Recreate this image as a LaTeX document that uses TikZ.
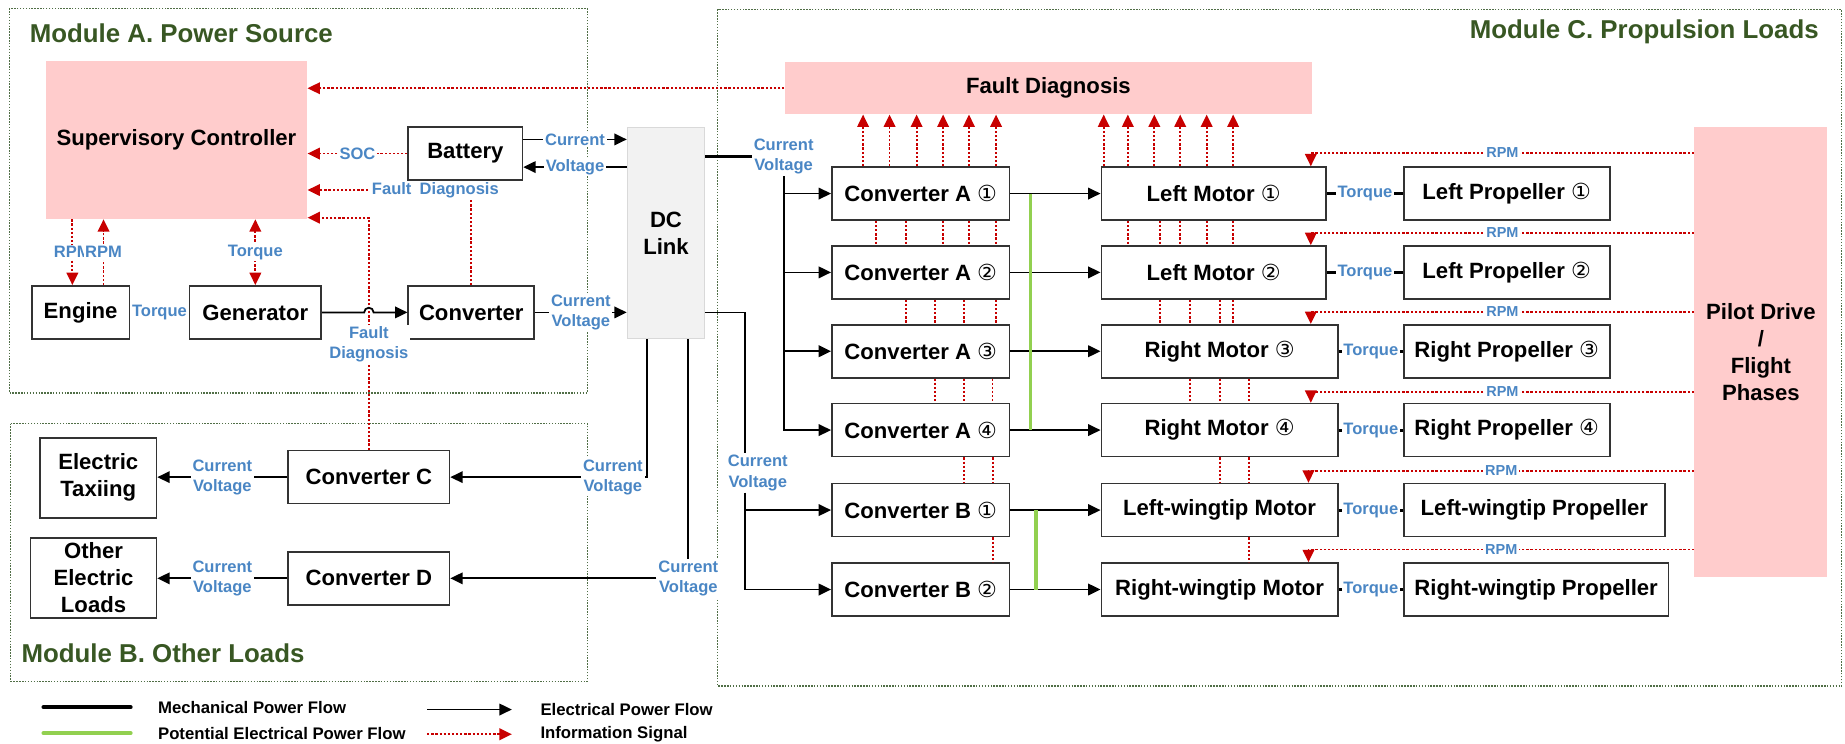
\documentclass[tikz,border=0pt]{standalone}
\usepackage{fontspec}
\setmainfont{Liberation Sans}
\newfontfamily\circfont{DejaVu Sans}
\usetikzlibrary{arrows.meta}

\definecolor{pinkfill}{RGB}{255,204,204}
\definecolor{lblblue}{RGB}{74,134,196}
\definecolor{infored}{RGB}{200,0,0}
\definecolor{potgreen}{RGB}{146,208,80}
\definecolor{modgreen}{RGB}{56,87,35}
\definecolor{framegreen}{RGB}{80,110,70}
\definecolor{dcgray}{RGB}{242,242,242}

\newlength\px
\setlength\px{0.02cm}
\newcommand{\cnum}[1]{{\circfont\mdseries #1}}
\newcommand{\boxfont}{\fontsize{10.7}{13}\selectfont\bfseries}
\newcommand{\lblfont}{\fontsize{8}{9.8}\selectfont\bfseries}
\newcommand{\rpmfont}{\fontsize{7}{8}\selectfont\bfseries}
\newcommand{\titlefont}{\fontsize{12.5}{15}\selectfont\bfseries}
\newcommand{\legfont}{\fontsize{8.1}{10}\selectfont\bfseries}

\tikzset{
  >={Triangle[length=6pt,width=5.6pt]},
  blk/.style={draw=black!80, line width=0.8pt, fill=white, font=\boxfont, align=center, minimum height=45\px, inner sep=1pt},
  pinkbox/.style={fill=pinkfill, font=\boxfont, align=center, inner sep=1pt},
  lbl/.style={fill=white, text=lblblue, font=\lblfont, align=center, inner sep=0.8pt},
  rpm/.style={lbl, font=\rpmfont},
  wire/.style={line width=0.85pt, black},
  elec/.style={wire, ->},
  mech/.style={line width=1.5pt, black},
  pot/.style={line width=1.6pt, potgreen},
  sig/.style={draw=infored, line width=0.9pt, dash pattern=on 1.1pt off 0.9pt},
  info/.style={sig, ->},
  modframe/.style={draw=framegreen, line width=0.5pt, dash pattern=on 0.7pt off 0.7pt},
  modtitle/.style={text=modgreen, font=\titlefont, inner sep=0pt},
  legtext/.style={font=\legfont, anchor=west, inner sep=0pt},
}

\begin{document}
\begin{tikzpicture}[x=0.02cm,y=-0.02cm]
\useasboundingbox (0,0) rectangle (1568,632);
% module frames
\draw[modframe] (8,7) rectangle (499,334);
\draw[modframe] (9,360) rectangle (499,579);
\draw[modframe] (610,8) rectangle (1565,583);
\node[modtitle,anchor=west](tA) at (25,28){Module A. Power Source};
\node[modtitle,anchor=west](tB) at (18,555){Module B. Other Loads};
\node[modtitle,anchor=east](tC) at (1546,27){Module C. Propulsion Loads};
% module A
\node[pinkbox,minimum width=222\px,minimum height=134\px](sc) at (150,119){Supervisory Controller};
\node[blk,minimum width=97\px](bat) at (395.5,130.5){Battery};
\node[blk,minimum width=83\px](eng) at (68.5,265.5){Engine};
\node[blk,minimum width=112\px](gen) at (217,265.5){Generator};
\node[blk,minimum width=107\px](conv) at (400.5,265.5){Converter};
\node[draw=black!15,fill=dcgray,font=\boxfont,align=center,minimum width=66\px,minimum height=180\px](dc) at (566,198){DC\\Link};
% module B
\node[blk,minimum width=99\px,minimum height=68\px](et) at (83.5,406){Electric\\Taxiing};
\node[blk,minimum width=137\px](cc) at (313.5,405.5){Converter C};
\node[blk,minimum width=107\px,minimum height=68\px](oel) at (79.5,491){Other\\Electric\\Loads};
\node[blk,minimum width=137\px](cd) at (313.5,491.5){Converter D};
% module C
\node[pinkbox,minimum width=448\px,minimum height=44\px](fd) at (891,75){Fault Diagnosis};
\node[pinkbox,minimum width=113\px,minimum height=382\px](pd) at (1496.5,299){Pilot Drive\\/\\Flight\\Phases};
\node[blk,minimum width=151\px](a1) at (782.5,164.5){Converter A \cnum{①}};
\node[blk,minimum width=151\px](a2) at (782.5,231.5){Converter A \cnum{②}};
\node[blk,minimum width=151\px](a3) at (782.5,298.5){Converter A \cnum{③}};
\node[blk,minimum width=151\px](a4) at (782.5,365.5){Converter A \cnum{④}};
\node[blk,minimum width=151\px](b1) at (782.5,433.5){Converter B \cnum{①}};
\node[blk,minimum width=151\px](b2) at (782.5,501){Converter B \cnum{②}};
\node[blk,minimum width=191\px](lm1) at (1031.5,164.5){Left Motor \cnum{①}};
\node[blk,minimum width=191\px](lm2) at (1031.5,231.5){Left Motor \cnum{②}};
\node[blk,minimum width=201\px](rm3) at (1036.5,298.5){Right Motor \cnum{③}};
\node[blk,minimum width=201\px](rm4) at (1036.5,365.5){Right Motor \cnum{④}};
\node[blk,minimum width=201\px](lw) at (1036.5,433.5){Left-wingtip Motor};
\node[blk,minimum width=201\px](rw) at (1036.5,501){Right-wingtip Motor};
\node[blk,minimum width=175\px](lp1) at (1280.5,164.5){Left Propeller \cnum{①}};
\node[blk,minimum width=175\px](lp2) at (1280.5,231.5){Left Propeller \cnum{②}};
\node[blk,minimum width=175\px](rp3) at (1280.5,298.5){Right Propeller \cnum{③}};
\node[blk,minimum width=175\px](rp4) at (1280.5,365.5){Right Propeller \cnum{④}};
\node[blk,minimum width=222\px](lwp) at (1304,433.5){Left-wingtip Propeller};
\node[blk,minimum width=225\px](rwp) at (1305.5,501){Right-wingtip Propeller};
% module A links
\draw[info](fd.west) -- (sc.east |- fd.west);
\draw[info](bat.west) -- node[lbl]{SOC} (sc.east |- bat.west);
\draw[info](conv.north) |- (sc.east |- 0,161.5);
\node[lbl](fdl1) at (370,161.5){Fault\enspace Diagnosis};
\draw[info](cc.north) |- (sc.east |- 0,185);
\draw[info](sc.south -| 61.5,0) -- node[lbl]{RPM} (eng.north -| 61.5,0);
\draw[info](eng.north -| 88,0) -- node[lbl]{RPM} (sc.south -| 88,0);
\draw[info,<->](sc.south -| gen.north) -- node[lbl]{Torque} (gen.north);
\draw[mech](eng.east) -- node[lbl]{Torque} (gen.west);
\draw[elec](gen.east) -- (309.5,265.5) arc[start angle=180,end angle=360,radius=4] -- (conv.west);
\node[lbl](fdl2) at (313.5,292.5){Fault\\Diagnosis};
\draw[elec](bat.east |- 0,118.5) -- node[lbl]{Current} (dc.west |- 0,118.5);
\draw[elec](dc.west |- 0,142) -- node[lbl]{Voltage} (bat.east |- 0,142);
\draw[elec](conv.east) -- node[lbl]{Current\\Voltage} (dc.west |- conv.east);
% DC link outputs
\node[lbl](cvA) at (666,133){Current\\Voltage};
\node[lbl](cvB) at (644,402){Current\\Voltage};
\node[lbl,anchor=east](cvC) at (548,405.5){Current\\Voltage};
\node[lbl](cvD) at (585,491.5){Current\\Voltage};
\draw[mech,line width=1.2pt](dc.east |- cvA.west) -- (cvA.west);
\draw[wire](dc.east |- conv.east) -| (cvB.north -| 633,0);
\draw[wire](dc.south -| 550,0) |- (cvC.east);
\draw[wire](dc.south -| cvD.north) -- (cvD.north);
\draw[elec](cvC.west) -- (cc.east);
\draw[elec](cvD.west) -- (cd.east);
\draw[elec](cc.west) -- node[lbl]{Current\\Voltage} (et.east |- cc.west);
\draw[elec](cd.west) -- node[lbl]{Current\\Voltage} (oel.east |- cd.west);
\draw[elec](cvA.south) |- (a4.west);
\draw[elec](cvA.south |- a1.west) -- (a1.west);
\draw[elec](cvA.south |- a2.west) -- (a2.west);
\draw[elec](cvA.south |- a3.west) -- (a3.west);
\draw[elec](cvB.south -| 633,0) |- (b2.west);
\draw[elec](b1.west -| 633,0) -- (b1.west);
% converters to motors
\draw[elec](a1.east) -- (lm1.west);
\draw[elec](a2.east) -- (lm2.west);
\draw[elec](a3.east) -- (rm3.west);
\draw[elec](a4.east) -- (rm4.west);
\draw[elec](b1.east) -- (lw.west);
\draw[elec](b2.east) -- (rw.west);
\draw[pot](a1.east -| 876,0) -- (a4.east -| 876,0);
\draw[pot](b1.east -| 880.5,0) -- (b2.east -| 880.5,0);
% motors to propellers
\draw[mech](lm1.east) -- node[lbl]{Torque} (lp1.west);
\draw[mech](lm2.east) -- node[lbl]{Torque} (lp2.west);
\draw[mech](rm3.east) -- node[lbl]{Torque} (rp3.west);
\draw[mech](rm4.east) -- node[lbl]{Torque} (rp4.west);
\draw[mech](lw.east) -- node[lbl]{Torque} (lwp.west);
\draw[mech](rw.east) -- node[lbl]{Torque} (rwp.west);
% pilot drive
\draw[info](pd.west |- 0,130) -| node[rpm,pos=0.25]{RPM} (lm1.north -| 1114,0);
\draw[info](pd.west |- 0,198) -| node[rpm,pos=0.25]{RPM} (lm2.north -| 1114,0);
\draw[info](pd.west |- 0,265) -| node[rpm,pos=0.25]{RPM} (rm3.north -| 1114,0);
\draw[info](pd.west |- 0,333) -| node[rpm,pos=0.25]{RPM} (rm4.north -| 1114,0);
\draw[info](pd.west |- 0,400) -| node[rpm,pos=0.25]{RPM} (lw.north -| 1112,0);
\draw[info](pd.west |- 0,467) -| node[rpm,pos=0.25]{RPM} (rw.north -| 1112,0);
% fault diagnosis signals
\draw[info](a1.north -| 733.5,0) -- (fd.south -| 733.5,0);
\draw[info](a1.north -| 756,0) -- (fd.south -| 756,0);
\draw[info](a1.north -| 779,0) -- (fd.south -| 779,0);
\draw[info](a1.north -| 801.5,0) -- (fd.south -| 801.5,0);
\draw[info](a1.north -| 823.5,0) -- (fd.south -| 823.5,0);
\draw[info](a1.north -| 846.5,0) -- (fd.south -| 846.5,0);
\draw[info](lm1.north -| 938,0) -- (fd.south -| 938,0);
\draw[info](lm1.north -| 958.5,0) -- (fd.south -| 958.5,0);
\draw[info](lm1.north -| 981,0) -- (fd.south -| 981,0);
\draw[info](lm1.north -| 1003,0) -- (fd.south -| 1003,0);
\draw[info](lm1.north -| 1025.5,0) -- (fd.south -| 1025.5,0);
\draw[info](lm1.north -| 1048,0) -- (fd.south -| 1048,0);
\draw[sig](a1.south -| 744.5,0) -- (a2.north -| 744.5,0);
\draw[sig](a1.south -| 770,0) -- (a2.north -| 770,0);
\draw[sig](a1.south -| 801.5,0) -- (a2.north -| 801.5,0);
\draw[sig](a1.south -| 823.5,0) -- (a2.north -| 823.5,0);
\draw[sig](a1.south -| 846.5,0) -- (a2.north -| 846.5,0);
\draw[sig](a2.south -| 770,0) -- (a3.north -| 770,0);
\draw[sig](a2.south -| 794.5,0) -- (a3.north -| 794.5,0);
\draw[sig](a2.south -| 819,0) -- (a3.north -| 819,0);
\draw[sig](a2.south -| 846.5,0) -- (a3.north -| 846.5,0);
\draw[sig](a3.south -| 794.5,0) -- (a4.north -| 794.5,0);
\draw[sig](a3.south -| 819,0) -- (a4.north -| 819,0);
\draw[sig](a3.south -| 843.5,0) -- (a4.north -| 843.5,0);
\draw[sig](a4.south -| 819,0) -- (b1.north -| 819,0);
\draw[sig](a4.south -| 844,0) -- (b1.north -| 844,0);
\draw[sig](b1.south -| 844,0) -- (b2.north -| 844,0);
\draw[sig](lm1.south -| 958.5,0) -- (lm2.north -| 958.5,0);
\draw[sig](lm1.south -| 986,0) -- (lm2.north -| 986,0);
\draw[sig](lm1.south -| 1003,0) -- (lm2.north -| 1003,0);
\draw[sig](lm1.south -| 1025.5,0) -- (lm2.north -| 1025.5,0);
\draw[sig](lm1.south -| 1048,0) -- (lm2.north -| 1048,0);
\draw[sig](lm2.south -| 986,0) -- (rm3.north -| 986,0);
\draw[sig](lm2.south -| 1011,0) -- (rm3.north -| 1011,0);
\draw[sig](lm2.south -| 1037,0) -- (rm3.north -| 1037,0);
\draw[sig](lm2.south -| 1048,0) -- (rm3.north -| 1048,0);
\draw[sig](rm3.south -| 1011,0) -- (rm4.north -| 1011,0);
\draw[sig](rm3.south -| 1037,0) -- (rm4.north -| 1037,0);
\draw[sig](rm3.south -| 1061.5,0) -- (rm4.north -| 1061.5,0);
\draw[sig](rm4.south -| 1037,0) -- (lw.north -| 1037,0);
\draw[sig](rm4.south -| 1061.5,0) -- (lw.north -| 1061.5,0);
\draw[sig](lw.south -| 1061.5,0) -- (rw.north -| 1061.5,0);
% legend
\coordinate(m1) at (37,601);
\coordinate(m2) at (111,601);
\coordinate(p1) at (37,623);
\coordinate(p2) at (111,623);
\coordinate(e1) at (363,603);
\coordinate(e2) at (435,603);
\coordinate(s1) at (363,624);
\coordinate(s2) at (435,624);
\draw[mech,line width=2pt,line cap=round](m1) -- (m2);
\draw[pot,line width=2pt,line cap=round](p1) -- (p2);
\draw[elec](e1) -- (e2);
\draw[info](s1) -- (s2);
\node[legtext](lg1) at (134,601){Mechanical Power Flow};
\node[legtext](lg2) at (134,623){Potential Electrical Power Flow};
\node[legtext](lg3) at (459,603){Electrical Power Flow};
\node[legtext](lg4) at (459,624){Information Signal};
\end{tikzpicture}
\end{document}
